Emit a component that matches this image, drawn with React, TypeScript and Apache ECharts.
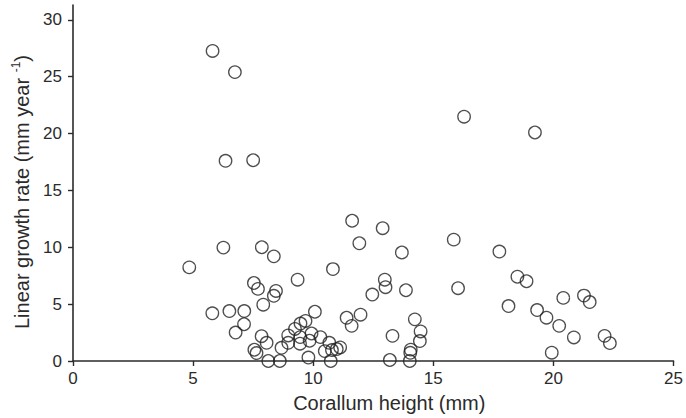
import React, { useEffect, useRef } from "react";
import * as echarts from "echarts";

const heights: number[] = [
  5.81, 6.74, 6.35, 7.5, 16.28, 19.23, 4.84, 6.26, 7.86, 8.36,
  10.82, 9.35, 7.53, 7.7, 8.45, 8.36, 7.92, 5.8, 6.51, 7.13,
  7.12, 6.77, 10.07, 11.39, 11.6, 11.97, 9.68, 9.47, 9.24, 8.96,
  7.85, 8.06, 9.46, 9.45, 8.96, 8.68, 9.93, 9.85, 10.3, 10.67,
  10.48, 10.78, 10.98, 11.12, 7.55, 7.64, 8.13, 8.61, 9.8, 10.73,
  11.62, 12.89, 11.92, 13.69, 15.85, 17.75, 12.98, 13.01, 12.46, 13.86,
  16.03, 14.23, 14.47, 14.44, 13.3, 14.06, 14.04, 14.02, 13.19, 18.5,
  18.88, 18.13, 19.32, 19.71, 20.41, 20.24, 20.85, 21.27, 21.51, 22.13,
  22.35, 19.93,
];

const growthRates: number[] = [
  27.26, 25.4, 17.6, 17.65, 21.48, 20.09, 8.23, 9.97, 10.0, 9.2,
  8.08, 7.15, 6.86, 6.34, 6.16, 5.73, 4.95, 4.19, 4.39, 4.39,
  3.23, 2.5, 4.33, 3.8, 3.09, 4.07, 3.52, 3.29, 2.82, 2.25,
  2.18, 1.6, 2.1, 1.52, 1.6, 1.16, 2.42, 1.78, 2.1, 1.6,
  0.87, 0.96, 1.05, 1.19, 0.99, 0.7, 0.0, 0.0, 0.3, 0.0,
  12.33, 11.68, 10.35, 9.54, 10.67, 9.62, 7.15, 6.49, 5.84, 6.22,
  6.4, 3.66, 2.6, 1.75, 2.21, 1.0, 0.72, 0.0, 0.09, 7.41,
  7.01, 4.83, 4.48, 3.81, 5.55, 3.09, 2.07, 5.75, 5.18, 2.21,
  1.57, 0.73,
];

const xTicks: number[] = [0, 5, 10, 15, 20, 25];
const yTicks: number[] = [0, 5, 10, 15, 20, 25, 30];

const FONT = "'Liberation Sans', Arial, sans-serif";
const INK = "#2b2b2b";

export default function App() {
  const ref = useRef<HTMLDivElement>(null);

  useEffect(() => {
    if (!ref.current) return;
    const chart = echarts.init(ref.current, null, { renderer: "svg" });
    const data = heights.map((h, i) => [h, growthRates[i]]);
    chart.setOption({
      animation: false,
      backgroundColor: "#ffffff",
      grid: { left: 73, right: 12, top: 5, bottom: 54 },
      xAxis: {
        type: "value",
        min: 0,
        max: 25,
        interval: 5,
        splitLine: { show: false },
        axisLine: { show: true, lineStyle: { color: INK, width: 1.6 } },
        axisTick: { show: true, length: 5, inside: false, customValues: xTicks, lineStyle: { color: INK, width: 1.4 } },
        axisLabel: { customValues: xTicks, margin: 9, color: INK, fontSize: 17, fontFamily: FONT },
        name: "Corallum height (mm)",
        nameLocation: "middle",
        nameGap: 32,
        nameTextStyle: { color: INK, fontSize: 20, fontFamily: FONT, padding: [0, 0, 0, 32] },
      },
      yAxis: {
        type: "value",
        min: 0,
        max: 31.3,
        splitLine: { show: false },
        axisLine: { show: true, lineStyle: { color: INK, width: 1.6 } },
        axisTick: { show: true, length: 5, inside: false, customValues: yTicks, lineStyle: { color: INK, width: 1.4 } },
        axisLabel: { customValues: yTicks, margin: 11, color: INK, fontSize: 17, fontFamily: FONT },
        name: "Linear growth rate (mm year {sup|-1})",
        nameLocation: "middle",
        nameGap: 38,
        nameTextStyle: {
          color: INK,
          fontSize: 20,
          fontFamily: FONT,
          padding: [0, 18, 0, 0],
          rich: {
            sup: { fontSize: 12, fontFamily: FONT, color: INK, verticalAlign: "top", lineHeight: 24 },
          },
        },
      },
      series: [
        {
          type: "scatter",
          data,
          symbol: "circle",
          symbolSize: 12.5,
          itemStyle: { color: "rgba(255,255,255,0)", borderColor: "#222222", borderWidth: 1.3 },
          emphasis: { disabled: true },
        },
      ],
    });
    return () => chart.dispose();
  }, []);

  return <div ref={ref} style={{ width: 686, height: 418, position: "absolute", left: 0, top: 0 }} />;
}
